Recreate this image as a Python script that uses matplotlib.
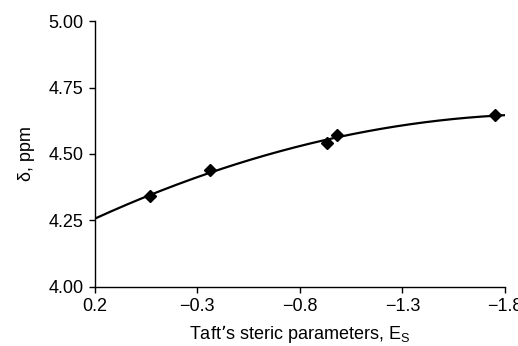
import numpy as np
import matplotlib.pyplot as plt

plt.rcParams['font.family'] = ['Liberation Sans', 'DejaVu Sans']

es = [-0.07, -0.36, -0.93, -0.98, -1.75]
delta = [4.34, 4.44, 4.54, 4.57, 4.645]
x_ticks = [0.2, -0.3, -0.8, -1.3, -1.8]
y_ticks = [4.00, 4.25, 4.50, 4.75, 5.00]

# quadratic trend line through the points
coef = np.polyfit(es, delta, 2)
xs = np.linspace(0.2, -1.8, 200)

fig = plt.figure(figsize=(5.18, 3.46), dpi=100)
ax = fig.add_axes([0.183, 0.171, 0.792, 0.768])
ax.plot(xs, np.polyval(coef, xs), color='black', lw=1.6)
ax.plot(es, delta, 'D', color='black', markersize=6.5)

ax.set_xlim(0.2, -1.8)
ax.set_ylim(4.0, 5.0)
ax.set_xticks(x_ticks)
ax.set_xticklabels(['0.2', '\u22120.3', '\u22120.8', '\u22121.3', '\u22121.8'])
ax.set_yticks(y_ticks)
ax.set_yticklabels(['%.2f' % v for v in y_ticks])
ax.tick_params(direction='out', length=4, width=1, labelsize=13, pad=4)
for s in ['top', 'right']:
    ax.spines[s].set_visible(False)
for s in ['left', 'bottom']:
    ax.spines[s].set_linewidth(1)
ax.set_xlabel("Taft\u2019s steric parameters, E$_\\mathregular{S}$", fontsize=13, labelpad=6)
ax.set_ylabel("\u03b4, ppm", fontsize=13, labelpad=10)

fig.savefig('out.png', dpi=100)
